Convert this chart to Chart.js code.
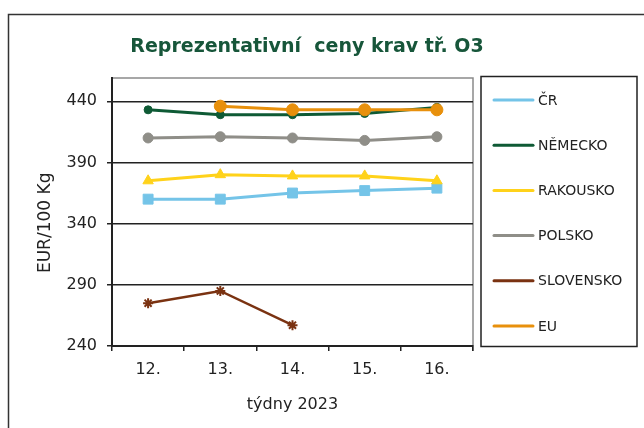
<!DOCTYPE html>
<html>
<head>
<meta charset="utf-8">
<script src="https://cdn.jsdelivr.net/npm/chart.js@4"></script>
<style>
html,body{margin:0;padding:0;background:#fff;}
#wrap{width:644px;height:428px;}
</style>
</head>
<body>
<div id="wrap"><canvas id="c" width="644" height="428"></canvas></div>
<script>
const chartTitle = 'Reprezentativní  ceny krav tř. O3';
const xTitle = 'týdny 2023';
const yTitle = 'EUR/100 Kg';
const categories = ['12.', '13.', '14.', '15.', '16.'];
const seriesNames = ['ČR', 'NĚMECKO', 'RAKOUSKO', 'POLSKO', 'SLOVENSKO', 'EU'];
const cr = [360, 360, 365, 367, 369];
const nemecko = [433, 429, 429, 430, 435];
const rakousko = [375, 380, 379, 379, 375];
const polsko = [410, 411, 410, 408, 411];
const slovensko = [275, 285, 257, null, null];
const eu = [null, 436, 433, 433, 433];
const yTickValues = [240, 290, 340, 390, 440];
const yMin = 240, yMax = 459;

const colors = ['#74c4e8', '#0e5a35', '#ffd21a', '#8f8e88', '#7a3211', '#e8900c'];
const styles = ['rect', 'circle', 'triangle', 'circle', 'star', 'circle'];
const radii = [7, 4, 6, 5, 5, 6];
const values = [cr, nemecko, rakousko, polsko, slovensko, eu];

const datasets = values.map((v, i) => ({
  label: seriesNames[i],
  data: v,
  borderColor: colors[i],
  backgroundColor: colors[i],
  pointBackgroundColor: colors[i],
  pointBorderColor: colors[i],
  pointStyle: styles[i],
  pointRadius: radii[i],
  pointBorderWidth: styles[i] === 'star' ? 2 : 1,
  borderWidth: styles[i] === 'star' ? 2.5 : 3,
  spanGaps: false,
  tension: 0,
  order: values.length - i
}));

const decor = {
  id: 'decor',
  beforeDraw(chart) {
    const ctx = chart.ctx;
    ctx.save();
    ctx.fillStyle = '#fff';
    ctx.fillRect(0, 0, chart.width, chart.height);
    ctx.strokeStyle = '#333';
    ctx.lineWidth = 1.5;
    ctx.strokeRect(8.5, 14.5, 800, 600);
    const a = chart.chartArea;
    ctx.strokeStyle = '#8a8a8a';
    ctx.lineWidth = 1.5;
    ctx.beginPath();
    ctx.moveTo(a.left, a.top);
    ctx.lineTo(a.right, a.top);
    ctx.lineTo(a.right, a.bottom + 5);
    ctx.stroke();
    ctx.restore();
  },
  afterDraw(chart) {
    const ctx = chart.ctx;
    ctx.save();
    ctx.fillStyle = '#17563a';
    ctx.font = 'bold 19px "DejaVu Sans"';
    ctx.textAlign = 'center';
    ctx.textBaseline = 'middle';
    ctx.fillText(chartTitle, 307, 47);
    ctx.strokeStyle = '#222';
    ctx.lineWidth = 1.5;
    ctx.strokeRect(481, 76.5, 156, 270);
    ctx.font = '14px "DejaVu Sans"';
    ctx.textAlign = 'left';
    chart.data.datasets.forEach((ds, i) => {
      const y = 100 + i * 45.2;
      ctx.strokeStyle = ds.borderColor;
      ctx.lineWidth = 3;
      ctx.lineCap = 'round';
      ctx.beginPath();
      ctx.moveTo(494, y);
      ctx.lineTo(533, y);
      ctx.stroke();
      ctx.fillStyle = '#222';
      ctx.fillText(ds.label, 538, y + 1);
    });
    ctx.restore();
  }
};

new Chart(document.getElementById('c'), {
  type: 'line',
  data: { labels: categories, datasets },
  plugins: [decor],
  options: {
    responsive: false,
    animation: false,
    layout: { padding: { left: 0, top: 78, right: 171, bottom: 0 } },
    plugins: { legend: { display: false }, title: { display: false }, tooltip: { enabled: false } },
    scales: {
      x: {
        offset: true,
        grid: { offset: true, drawOnChartArea: false, drawTicks: true, tickLength: 5, color: '#222', lineWidth: 1.5 },
        border: { display: true, color: '#222', width: 2 },
        ticks: { color: '#222', font: { family: 'DejaVu Sans', size: 16 }, padding: 9 },
        title: { display: true, text: xTitle, color: '#222', font: { family: 'DejaVu Sans', size: 16 }, padding: { top: 0, bottom: 14 } },
        afterFit: s => { s.height = 82; }
      },
      y: {
        min: yMin, max: yMax,
        afterBuildTicks: s => { s.ticks = yTickValues.map(v => ({ value: v })); },
        ticks: { color: '#222', font: { family: 'DejaVu Sans', size: 16 }, padding: 10 },
        grid: { color: '#222', lineWidth: 1.5, tickLength: 5 },
        border: { display: true, color: '#222', width: 2 },
        title: { display: true, text: yTitle + '    ', color: '#222', font: { family: 'DejaVu Sans', size: 17 }, padding: { top: 35, bottom: 0 } },
        afterFit: s => { s.width = 112; }
      }
    }
  }
});
</script>
</body>
</html>
